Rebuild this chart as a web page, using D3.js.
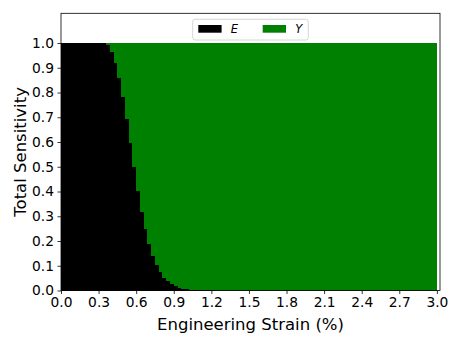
<!DOCTYPE html>
<html>
<head>
<meta charset="utf-8">
<script src="https://cdn.jsdelivr.net/npm/d3@7"></script>
<style>
  body { margin: 0; background: white; }
  svg { display: block; font-family: "DejaVu Sans", sans-serif; }
</style>
</head>
<body>
<div id="chart"></div>
<script>
// Left edge of every bar (engineering strain in %), bars are 0.03 wide
const strain = [
  0.00, 0.03, 0.06, 0.09, 0.12, 0.15, 0.18, 0.21, 0.24, 0.27,
  0.30, 0.33, 0.36, 0.39, 0.42, 0.45, 0.48, 0.51, 0.54, 0.57,
  0.60, 0.63, 0.66, 0.69, 0.72, 0.75, 0.78, 0.81, 0.84, 0.87,
  0.90, 0.93, 0.96, 0.99, 1.02, 1.05, 1.08, 1.11, 1.14, 1.17,
  1.20, 1.23, 1.26, 1.29, 1.32, 1.35, 1.38, 1.41, 1.44, 1.47,
  1.50, 1.53, 1.56, 1.59, 1.62, 1.65, 1.68, 1.71, 1.74, 1.77,
  1.80, 1.83, 1.86, 1.89, 1.92, 1.95, 1.98, 2.01, 2.04, 2.07,
  2.10, 2.13, 2.16, 2.19, 2.22, 2.25, 2.28, 2.31, 2.34, 2.37,
  2.40, 2.43, 2.46, 2.49, 2.52, 2.55, 2.58, 2.61, 2.64, 2.67,
  2.70, 2.73, 2.76, 2.79, 2.82, 2.85, 2.88, 2.91, 2.94, 2.97
];
const barWidth = 0.03;

// Total sensitivity of E (bottom, black)
const sensE = [
  1, 1, 1, 1, 1, 1, 1, 1, 1, 1,
  1, 0.998, 0.992, 0.962, 0.921, 0.860, 0.782, 0.694, 0.597, 0.501,
  0.403, 0.319, 0.248, 0.187, 0.140, 0.103, 0.073, 0.052, 0.037, 0.026,
  0.018, 0.012, 0.008, 0.0055, 0.0037, 0.0025, 0.0016, 0.001, 0.0006, 0.0004,
  0.0002, 0, 0, 0, 0, 0, 0, 0, 0, 0,
  0, 0, 0, 0, 0, 0, 0, 0, 0, 0,
  0, 0, 0, 0, 0, 0, 0, 0, 0, 0,
  0, 0, 0, 0, 0, 0, 0, 0, 0, 0,
  0, 0, 0, 0, 0, 0, 0, 0, 0, 0,
  0, 0, 0, 0, 0, 0, 0, 0, 0, 0
];

// Total sensitivity of Y (stacked on top, green)
const sensY = [
  0, 0, 0, 0, 0, 0, 0, 0, 0, 0,
  0, 0.002, 0.008, 0.038, 0.079, 0.140, 0.218, 0.306, 0.403, 0.499,
  0.597, 0.681, 0.752, 0.813, 0.860, 0.897, 0.927, 0.948, 0.963, 0.974,
  0.982, 0.988, 0.992, 0.9945, 0.9963, 0.9975, 0.9984, 0.999, 0.9994, 0.9996,
  0.9998, 1, 1, 1, 1, 1, 1, 1, 1, 1,
  1, 1, 1, 1, 1, 1, 1, 1, 1, 1,
  1, 1, 1, 1, 1, 1, 1, 1, 1, 1,
  1, 1, 1, 1, 1, 1, 1, 1, 1, 1,
  1, 1, 1, 1, 1, 1, 1, 1, 1, 1,
  1, 1, 1, 1, 1, 1, 1, 1, 1, 1
];

const seriesNames = ["E", "Y"];
const seriesColors = ["#000000", "#008000"];
const xTicks = [0.0, 0.3, 0.6, 0.9, 1.2, 1.5, 1.8, 2.1, 2.4, 2.7, 3.0];
const yTicks = [0.0, 0.1, 0.2, 0.3, 0.4, 0.5, 0.6, 0.7, 0.8, 0.9, 1.0];

const width = 457, height = 343;
const plot = { left: 61, right: 440, top: 13.3, bottom: 290.5 };

const svg = d3.select("#chart").append("svg")
  .attr("width", width)
  .attr("height", height);

const x = d3.scaleLinear().domain([0, 3.025]).range([plot.left, plot.right]);
const y = d3.scaleLinear().domain([0, 1.12]).range([plot.bottom, plot.top]);

// stack the two series bar by bar
const rows = strain.map((s, i) => ({ s, E: sensE[i], Y: sensY[i] }));
const stacked = d3.stack().keys(seriesNames)(rows);

// crisp edges + a little overlap so neighbouring bars don't leave seams
const bars = svg.append("g").attr("shape-rendering", "crispEdges");
stacked.forEach((layer, k) => {
  bars.append("g")
    .attr("fill", seriesColors[k])
    .selectAll("rect")
    .data(layer)
    .join("rect")
    .attr("x", d => x(d.data.s))
    .attr("width", (d, i) => x(d.data.s + barWidth) - x(d.data.s) + (i < layer.length - 1 ? 1 : 0))
    .attr("y", d => y(d[1]))
    .attr("height", d => Math.max(0, y(d[0]) - y(d[1])));
});

// axes
const xAxis = d3.axisBottom(x).tickValues(xTicks).tickFormat(d3.format(".1f")).tickSize(3.5).tickPadding(3.5);
const yAxis = d3.axisLeft(y).tickValues(yTicks).tickFormat(d3.format(".1f")).tickSize(3.5).tickPadding(3.5);

const gx = svg.append("g").attr("transform", `translate(0,${plot.bottom})`).call(xAxis);
const gy = svg.append("g").attr("transform", `translate(${plot.left},0)`).call(yAxis);
[gx, gy].forEach(g => {
  g.select(".domain").remove();
  g.selectAll(".tick line").attr("stroke", "#000").attr("stroke-width", 0.8);
  g.selectAll(".tick text")
    .attr("fill", "#000")
    .style("font-family", "DejaVu Sans")
    .style("font-size", "13.8px");
});

// frame
svg.append("rect")
  .attr("x", plot.left).attr("y", plot.top)
  .attr("width", plot.right - plot.left).attr("height", plot.bottom - plot.top)
  .attr("fill", "none").attr("stroke", "#000").attr("stroke-width", 0.8);

// axis titles
svg.append("text")
  .attr("x", (plot.left + plot.right) / 2)
  .attr("y", 329.5)
  .attr("text-anchor", "middle")
  .style("font-size", "16.5px")
  .text("Engineering Strain (%)");

svg.append("text")
  .attr("transform", `translate(26,${(plot.top + plot.bottom) / 2}) rotate(-90)`)
  .attr("text-anchor", "middle")
  .style("font-size", "16.5px")
  .text("Total Sensitivity");

// legend
const legend = svg.append("g").attr("transform", "translate(192.7,19.3)");
legend.append("rect")
  .attr("width", 115.6).attr("height", 20.7)
  .attr("rx", 2.5)
  .attr("fill", "white").attr("fill-opacity", 0.8)
  .attr("stroke", "#cccccc").attr("stroke-width", 0.8);

const legendItems = legend.selectAll(".legend-item")
  .data(seriesNames)
  .join("g")
  .attr("class", "legend-item")
  .attr("transform", (d, i) => `translate(${5.6 + i * 64.4},5.7)`);

legendItems.append("rect")
  .attr("width", 23.3).attr("height", 7.7)
  .attr("fill", (d, i) => seriesColors[i]);

legendItems.append("text")
  .attr("x", 32.5)
  .attr("y", 8)
  .style("font-size", "11.5px")
  .style("font-style", "italic")
  .text(d => d);
</script>
</body>
</html>
